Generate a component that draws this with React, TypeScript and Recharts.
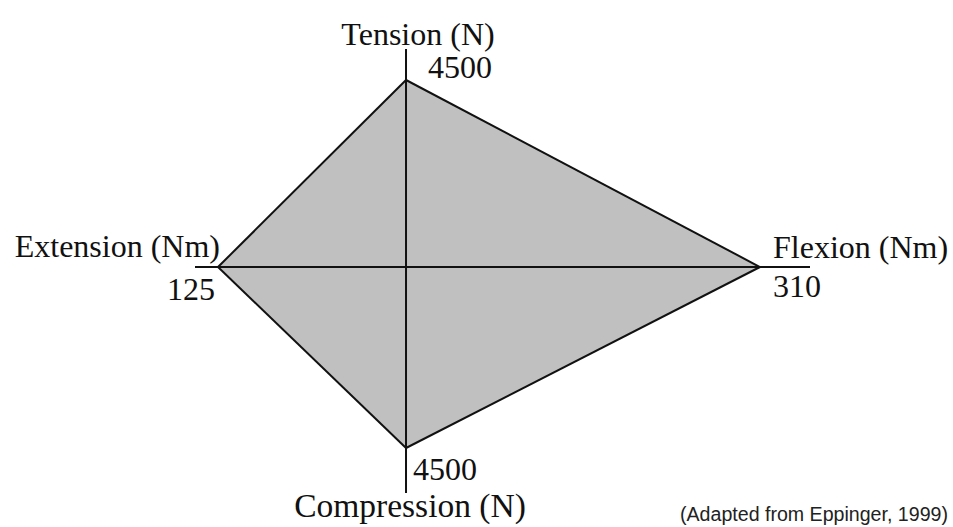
import {
  ComposedChart,
  Area,
  XAxis,
  YAxis,
  ReferenceLine,
  ReferenceDot,
} from 'recharts';

// axes in order: up, right, down, left
const axisNames = ['Tension (N)', 'Flexion (Nm)', 'Compression (N)', 'Extension (Nm)'];
const axisLimits = [4500, 310, 4500, 125];
const axisLimitLabels = ['4500', '310', '4500', '125'];
const sourceNote = '(Adapted from Eppinger, 1999)';

const [tension, flexion, compression, extension] = axisLimits;

// one row per vertex along x; each quadrant is a triangle down to the zero line
const rows = [
  {x: -extension, upL: 0, loL: 0},
  {x: 0, upL: tension, loL: -compression, upR: tension, loR: -compression},
  {x: flexion, upR: 0, loR: 0},
];

const SERIF = '"Liberation Serif", "DejaVu Serif", serif';
const INK = '#111';
const FILL = '#c0c0c0';

// text placement around each vertex (px offsets from the vertex)
const textLayout = [
  {name: {dx: 12, dy: -35, anchor: 'middle', size: 32}, limit: {dx: 22, dy: -2, anchor: 'start'}},
  {name: {dx: 13, dy: -9, anchor: 'start', size: 32}, limit: {dx: 13, dy: 30, anchor: 'start'}},
  {name: {dx: 4, dy: 69, anchor: 'middle', size: 33.5}, limit: {dx: 7, dy: 32, anchor: 'start'}},
  {name: {dx: 2, dy: -10, anchor: 'end', size: 32}, limit: {dx: -3, dy: 33, anchor: 'end'}},
];

const vertexLabel = (i: number) => (props: any) => {
  const {x, y} = props.viewBox;
  const l = textLayout[i];
  return (
    <g>
      <text x={x + l.name.dx} y={y + l.name.dy} textAnchor={l.name.anchor}
        fontFamily={SERIF} fontSize={l.name.size} fill={INK}>
        {axisNames[i]}
      </text>
      <text x={x + l.limit.dx} y={y + l.limit.dy} textAnchor={l.limit.anchor}
        fontFamily={SERIF} fontSize={32} fill={INK}>
        {axisLimitLabels[i]}
      </text>
    </g>
  );
};

const vertices = [
  {x: 0, y: tension, xAxisId: 'flex', yAxisId: 'ten'},
  {x: flexion, y: 0, xAxisId: 'flex', yAxisId: 'ten'},
  {x: 0, y: -compression, xAxisId: 'flex', yAxisId: 'comp'},
  {x: -extension, y: 0, xAxisId: 'ext', yAxisId: 'ten'},
];

const areaStyle = {
  type: 'linear' as const,
  baseValue: 0,
  stroke: INK,
  strokeWidth: 2,
  fill: FILL,
  fillOpacity: 1,
  dot: false,
  activeDot: false,
  isAnimationActive: false,
};

export default function App() {
  return (
    <div style={{position: 'absolute', left: 0, top: 0, width: 953, height: 527, background: '#fff'}}>
      <ComposedChart
        width={953}
        height={527}
        data={rows}
        margin={{top: 49, right: 143, bottom: 34, left: 195}}>
        {/* each half-axis has its own scale, as in the schematic */}
        <XAxis xAxisId="ext" type="number" dataKey="x" domain={[-140.3, 268.6]} allowDataOverflow hide />
        <XAxis xAxisId="flex" type="number" dataKey="x" domain={[-184.8, 353.8]} allowDataOverflow hide />
        <YAxis yAxisId="ten" type="number" domain={[-5438, 5246]} allowDataOverflow hide />
        <YAxis yAxisId="comp" type="number" domain={[-5619, 5420]} allowDataOverflow hide />

        <Area {...areaStyle} dataKey="upL" xAxisId="ext" yAxisId="ten" />
        <Area {...areaStyle} dataKey="loL" xAxisId="ext" yAxisId="comp" />
        <Area {...areaStyle} dataKey="upR" xAxisId="flex" yAxisId="ten" />
        <Area {...areaStyle} dataKey="loR" xAxisId="flex" yAxisId="comp" />

        <ReferenceLine x={0} xAxisId="flex" yAxisId="ten" stroke={INK} strokeWidth={2} />
        <ReferenceLine y={0} xAxisId="flex" yAxisId="ten" stroke={INK} strokeWidth={2} />

        {vertices.map((v, i) => (
          <ReferenceDot
            key={axisNames[i]}
            x={v.x}
            y={v.y}
            xAxisId={v.xAxisId}
            yAxisId={v.yAxisId}
            r={0}
            fill="none"
            stroke="none"
            label={vertexLabel(i)}
          />
        ))}
      </ComposedChart>
      <svg width={953} height={527} style={{position: 'absolute', left: 0, top: 0, pointerEvents: 'none'}}>
        <text x={680} y={521} fontFamily='"Liberation Sans", Arial, sans-serif' fontSize={19.6} fill="#222">
          {sourceNote}
        </text>
      </svg>
    </div>
  );
}
